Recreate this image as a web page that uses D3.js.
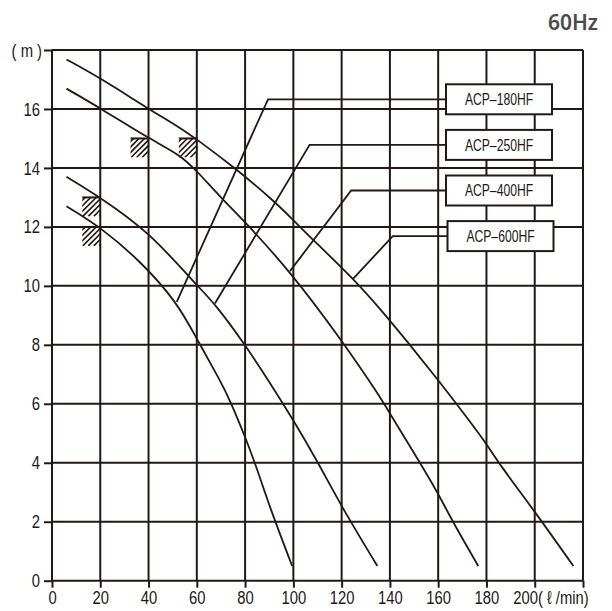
<!DOCTYPE html>
<html>
<head>
<meta charset="utf-8">
<script src="https://cdn.jsdelivr.net/npm/d3@7"></script>
<style>
body{margin:0;background:#fff;}
</style>
</head>
<body>
<script>
//pump models, one curve each
var models = ["ACP\u2013180HF", "ACP\u2013250HF", "ACP\u2013400HF", "ACP\u2013600HF"];

//flow (l/min) and total head (m)
var flow180 = [6, 20, 36.5, 51.7, 60, 69.6, 73.7, 80, 84.1, 90.6, 99.5];
var head180 = [12.7, 12.0, 10.85, 9.46, 8.2, 6.8, 6.13, 4.88, 4.0, 2.4, 0.5];
var flow250 = [6, 20, 40, 59.9, 67.5, 80, 89.6, 100, 110.3, 120.7, 134.8];
var head250 = [13.7, 13.0, 11.85, 10.02, 9.4, 8.0, 6.8, 5.45, 4.0, 2.4, 0.5];
var flow400 = [6, 20, 40, 53, 60, 69.6, 79.3, 98.6, 120, 135.9, 140, 152.5, 160, 165.6, 176.6];
var head400 = [16.69, 16.03, 15.0, 14.45, 13.9, 13.02, 12.23, 10.5, 8.16, 6.24, 5.67, 4.0, 2.96, 2.06, 0.5];
var flow600 = [6, 20, 40, 53, 60, 75.8, 91.7, 100, 108.2, 124.2, 135.9, 148.3, 160, 167.6, 180, 184.9, 200, 216];
var head600 = [17.68, 17.05, 16.0, 15.37, 14.97, 14.0, 12.9, 12.23, 11.55, 10.3, 9.23, 8.0, 6.8, 6.0, 4.66, 4.0, 2.35, 0.5];

//flow where each model's leader line touches its curve
var leaderFlow = [51.7, 67.5, 98.6, 124.8];

//rated points (hatched marks)
var ratedFlow = [40, 60, 20, 20];
var ratedHead = [15, 15, 13, 12];

//tick values
var xTicks = [0, 20, 40, 60, 80, 100, 120, 140, 160, 180, 200, 220];
var yTicks = [0, 2, 4, 6, 8, 10, 12, 14, 16, 18];

window.onload = function(){
    var w = 612, h = 611;
    var ink = "#231815";
    var font = "'Liberation Sans',Arial,sans-serif";
    var k = 0.78; //horizontal squeeze to mimic the condensed face
    var kb = 0.76; //same for the box labels

    var svg = d3.select("body")
        .append("svg")
        .attr("width", w)
        .attr("height", h);

    var x = d3.scaleLinear().domain([0, 220]).range([52, 583]);
    var y = d3.scaleLinear().domain([0, 18]).range([580.7, 50]);

    //grid
    svg.append("g").selectAll("line")
        .data(xTicks)
        .enter()
        .append("line")
        .attr("x1", function(d){ return x(d); })
        .attr("x2", function(d){ return x(d); })
        .attr("y1", y(0))
        .attr("y2", y(18))
        .style("stroke", ink)
        .style("stroke-width", 2);
    svg.append("g").selectAll("line")
        .data(yTicks)
        .enter()
        .append("line")
        .attr("x1", x(0))
        .attr("x2", x(220))
        .attr("y1", function(d){ return y(d); })
        .attr("y2", function(d){ return y(d); })
        .style("stroke", ink)
        .style("stroke-width", 2);

    //y axis
    var yAxis = d3.axisLeft(y)
        .tickValues(yTicks)
        .tickSize(8)
        .tickPadding(4)
        .tickFormat(function(d){ return d === 18 ? "( m )" : d; });
    var gy = svg.append("g")
        .attr("transform", "translate(" + x(0) + ",0)")
        .call(yAxis);

    //x axis
    var xAxis = d3.axisBottom(x)
        .tickValues(xTicks)
        .tickSize(7)
        .tickPadding(3)
        .tickFormat(function(d){ return d === 220 ? "" : d; });
    var gx = svg.append("g")
        .attr("transform", "translate(0," + y(0) + ")")
        .call(xAxis);

    [gx, gy].forEach(function(g){
        g.select(".domain").remove();
        g.selectAll("line").style("stroke", ink).style("stroke-width", 2);
        g.selectAll("text")
            .attr("font-family", font)
            .attr("font-size", 19)
            .attr("transform", "scale(" + k + ",1)")
            .style("fill", ink);
    });
    gy.selectAll("text").attr("x", -12 / k);
    gy.selectAll(".tick text")
        .filter(function(d){ return d === 18; })
        .attr("x", -10 / k);

    //unit label rides on the 200 tick
    gx.selectAll(".tick text")
        .filter(function(d){ return d === 200; })
        .attr("text-anchor", "start")
        .attr("x", -22 / k)
        .text("200( \u2113 /min)");

    //pump curves
    var flows = [flow180, flow250, flow400, flow600];
    var heads = [head180, head250, head400, head600];
    var line = d3.line()
        .x(function(d){ return x(d[0]); })
        .y(function(d){ return y(d[1]); })
        .curve(d3.curveBasis);

    svg.append("g").selectAll("path")
        .data(flows)
        .enter()
        .append("path")
        .attr("d", function(d, i){
            return line(d3.zip(d, heads[i]));
        })
        .style("fill", "none")
        .style("stroke", ink)
        .style("stroke-width", 1.8);

    //hatched rated-point marks
    var hw = 18, hh = 19;
    ratedFlow.forEach(function(f, i){
        var px = x(f), py = y(ratedHead[i]);
        var g = svg.append("g");
        g.append("clipPath")
            .attr("id", "hc" + i)
            .append("rect")
            .attr("x", px - hw)
            .attr("y", py)
            .attr("width", hw)
            .attr("height", hh);
        g.append("g")
            .attr("clip-path", "url(#hc" + i + ")")
            .selectAll("line")
            .data(d3.range(3, hw + hh, 5.5))
            .enter()
            .append("line")
            .attr("x1", function(d){ return px - hw + d - hh; })
            .attr("y1", py + hh)
            .attr("x2", function(d){ return px - hw + d; })
            .attr("y2", py)
            .style("stroke", ink)
            .style("stroke-width", 1.6);
        g.append("line")
            .attr("x1", px - hw)
            .attr("x2", px)
            .attr("y1", py)
            .attr("y2", py)
            .style("stroke", ink)
            .style("stroke-width", 2);
    });

    //model labels with leader lines
    var boxX = 446, boxW = 106, boxH = 30;
    models.forEach(function(m, i){
        var cy = 99.3 + i * 45.6;
        var ex = 268 + i * 41.6;
        var bx = boxX + (i === 3 ? 1.5 : 0);
        var lf = leaderFlow[i];
        var lh = d3.scaleLinear().domain(flows[i]).range(heads[i])(lf);
        svg.append("polyline")
            .attr("points", [[x(lf), y(lh)], [ex, cy], [bx, cy]].join(" "))
            .style("fill", "none")
            .style("stroke", ink)
            .style("stroke-width", 1.8);
        svg.append("rect")
            .attr("x", bx)
            .attr("y", cy - boxH / 2)
            .attr("width", boxW)
            .attr("height", boxH)
            .style("fill", "#fff")
            .style("stroke", ink)
            .style("stroke-width", 2);
        svg.append("text")
            .attr("x", (bx + boxW / 2) / kb)
            .attr("y", cy)
            .attr("dy", "0.36em")
            .attr("transform", "scale(" + kb + ",1)")
            .attr("text-anchor", "middle")
            .attr("font-family", font)
            .attr("font-size", 16)
            .style("fill", ink)
            .text(m);
    });

    //frequency title
    svg.append("text")
        .attr("x", 598)
        .attr("y", 30)
        .attr("text-anchor", "end")
        .attr("font-family", "'Noto Sans',sans-serif")
        .attr("font-weight", 600)
        .attr("font-size", 21)
        .style("fill", "#4a4a4a")
        .text("60Hz");
};
</script>
</body>
</html>
